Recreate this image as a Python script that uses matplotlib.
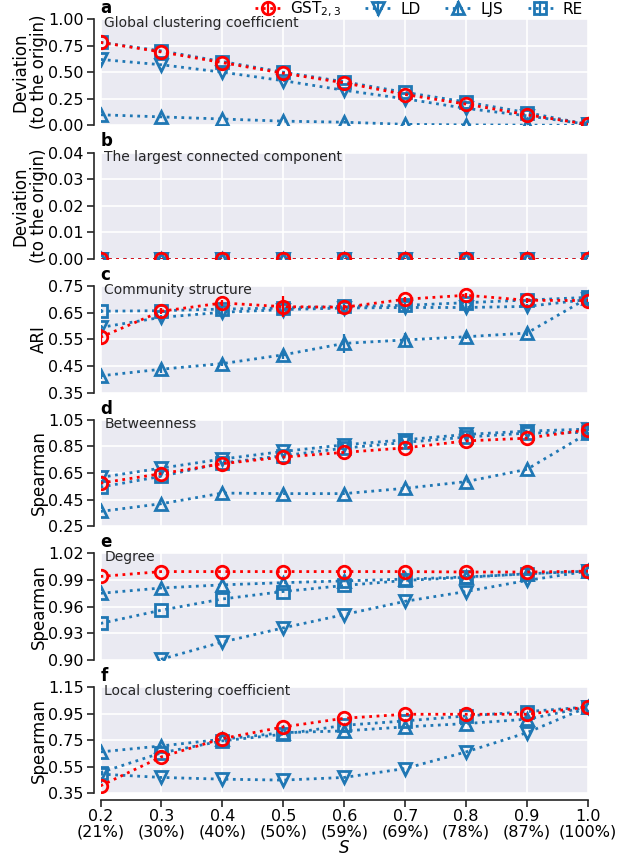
import numpy as np
import matplotlib
matplotlib.use("Agg")
import matplotlib.pyplot as plt

# ---- data -------------------------------------------------------------
s_values = [0.2, 0.3, 0.4, 0.5, 0.6, 0.7, 0.8, 0.9, 1.0]
s_percent = ["21%", "30%", "40%", "50%", "59%", "69%", "78%", "87%", "100%"]
methods = ["GST$_{2,3}$", "LD", "LJS", "RE"]

# a: global clustering coefficient (deviation to the origin)
gcc_gst = [0.78, 0.69, 0.59, 0.49, 0.40, 0.29, 0.20, 0.10, 0.01]
gcc_ld = [0.62, 0.57, 0.50, 0.42, 0.33, 0.25, 0.16, 0.09, 0.01]
gcc_ljs = [0.10, 0.08, 0.06, 0.04, 0.03, 0.01, 0.005, 0.003, 0.0]
gcc_re = [0.78, 0.70, 0.60, 0.50, 0.41, 0.31, 0.22, 0.12, 0.01]

# b: largest connected component (deviation to the origin)
lcc_gst = [0.0, 0.0, 0.0, 0.0, 0.0, 0.0, 0.0, 0.0, 0.0]
lcc_ld = [0.0, 0.0, 0.0, 0.0, 0.0, 0.0, 0.0, 0.0, 0.0]
lcc_ljs = [0.0, 0.0, 0.0, 0.0, 0.0, 0.0, 0.0, 0.0, 0.0]
lcc_re = [0.0, 0.0, 0.0, 0.0, 0.0, 0.0, 0.0, 0.0, 0.0]

# c: community structure (ARI) with standard deviations
ari_gst = [0.558, 0.656, 0.687, 0.673, 0.671, 0.701, 0.716, 0.697, 0.696]
ari_ld = [0.595, 0.633, 0.652, 0.662, 0.668, 0.670, 0.670, 0.674, 0.700]
ari_ljs = [0.413, 0.438, 0.459, 0.492, 0.535, 0.548, 0.560, 0.574, 0.706]
ari_re = [0.656, 0.658, 0.664, 0.668, 0.674, 0.678, 0.688, 0.698, 0.708]
ari_gst_err = [0.03, 0.012, 0.01, 0.04, 0.01, 0.01, 0.01, 0.01, 0.005]
ari_ld_err = [0.01, 0.01, 0.01, 0.01, 0.01, 0.01, 0.01, 0.01, 0.005]
ari_ljs_err = [0.01, 0.015, 0.01, 0.015, 0.035, 0.025, 0.01, 0.01, 0.005]
ari_re_err = [0.008, 0.01, 0.008, 0.008, 0.008, 0.008, 0.008, 0.008, 0.005]

# d: betweenness (Spearman)
btw_gst = [0.574, 0.645, 0.720, 0.770, 0.805, 0.839, 0.891, 0.912, 0.975]
btw_ld = [0.617, 0.687, 0.755, 0.812, 0.862, 0.900, 0.940, 0.965, 0.980]
btw_ljs = [0.361, 0.419, 0.499, 0.495, 0.495, 0.535, 0.585, 0.678, 0.950]
btw_re = [0.544, 0.625, 0.725, 0.780, 0.837, 0.880, 0.920, 0.950, 0.955]

# e: degree (Spearman)
deg_gst = [0.994, 0.9995, 0.9995, 0.9995, 0.9995, 0.9995, 0.999, 0.999, 1.0]
deg_ld = [0.870, 0.9007, 0.920, 0.936, 0.951, 0.966, 0.977, 0.9895, 1.0]
deg_ljs = [0.975, 0.981, 0.9845, 0.987, 0.989, 0.991, 0.9935, 0.997, 1.0]
deg_re = [0.941, 0.956, 0.9686, 0.977, 0.9838, 0.9895, 0.993, 0.997, 1.0]

# f: local clustering coefficient (Spearman)
lcc2_gst = [0.407, 0.625, 0.762, 0.850, 0.915, 0.945, 0.945, 0.945, 1.0]
lcc2_ld = [0.495, 0.470, 0.457, 0.450, 0.470, 0.537, 0.662, 0.807, 1.0]
lcc2_ljs = [0.662, 0.707, 0.757, 0.807, 0.820, 0.850, 0.875, 0.908, 1.0]
lcc2_re = [0.507, 0.655, 0.745, 0.795, 0.862, 0.895, 0.932, 0.965, 1.0]

panel_letters = ["a", "b", "c", "d", "e", "f"]
panel_titles = ["Global clustering coefficient", "The largest connected component",
                "Community structure", "Betweenness", "Degree",
                "Local clustering coefficient"]
panel_ylabels = ["Deviation\n(to the origin)", "Deviation\n(to the origin)", "ARI",
                 "Spearman", "Spearman", "Spearman"]
panel_yticks = [
    [0.00, 0.25, 0.50, 0.75, 1.00],
    [0.00, 0.01, 0.02, 0.03, 0.04],
    [0.35, 0.45, 0.55, 0.65, 0.75],
    [0.25, 0.45, 0.65, 0.85, 1.05],
    [0.90, 0.93, 0.96, 0.99, 1.02],
    [0.35, 0.55, 0.75, 0.95, 1.15],
]

panels = [
    (gcc_gst, gcc_ld, gcc_ljs, gcc_re, None),
    (lcc_gst, lcc_ld, lcc_ljs, lcc_re, None),
    (ari_gst, ari_ld, ari_ljs, ari_re, (ari_gst_err, ari_ld_err, ari_ljs_err, ari_re_err)),
    (btw_gst, btw_ld, btw_ljs, btw_re, None),
    (deg_gst, deg_ld, deg_ljs, deg_re, None),
    (lcc2_gst, lcc2_ld, lcc2_ljs, lcc2_re, None),
]

# ---- style ------------------------------------------------------------
RED = "#ff0000"
BLUE = "#1f77b4"
styles = [
    dict(color=RED, marker="o", zorder=5),
    dict(color=BLUE, marker="v", zorder=3),
    dict(color=BLUE, marker="^", zorder=3),
    dict(color=BLUE, marker="s", zorder=4),
]

plt.rcParams["font.family"] = ["DejaVu Sans"]

fig = plt.figure(figsize=(6.38, 8.58), dpi=100)
left, right = 100.5 / 638, 588 / 638
top_px, pitch_px, height_px = 19.0, 133.6, 106.4

axes = []
for i in range(6):
    y0 = 1 - (top_px + i * pitch_px + height_px) / 858
    ax = fig.add_axes([left, y0, right - left, height_px / 858])
    axes.append(ax)

for i, ax in enumerate(axes):
    ax.set_facecolor("#EAEAF2")
    gst, ld, ljs, re_, errs = panels[i]
    series = [gst, ld, ljs, re_]
    for k, (vals, st) in enumerate(zip(series, styles)):
        yerr = errs[k] if errs is not None else np.zeros(len(vals))
        ax.errorbar(s_values, vals, yerr=yerr, color=st["color"], marker=st["marker"],
                    linestyle=":", linewidth=2, markersize=9, markeredgewidth=2,
                    markerfacecolor="none", elinewidth=1.6, capsize=0,
                    zorder=st["zorder"], label=methods[k])
    ax.set_xlim(0.2, 1.0)
    yt = panel_yticks[i]
    ax.set_ylim(yt[0], yt[-1])
    ax.set_yticks(yt)
    ax.set_yticklabels([f"{v:.2f}" for v in yt])
    ax.set_xticks(s_values)
    ax.grid(True, color="white", linewidth=1.2)
    ax.set_axisbelow(True)
    for side in ["top", "right"]:
        ax.spines[side].set_visible(False)
    ax.spines["left"].set_position(("outward", 5))
    ax.spines["left"].set_color("#262626")
    ax.spines["left"].set_linewidth(1.2)
    ax.tick_params(axis="y", labelsize=11.5, length=5, width=1.2, color="#262626", pad=2)
    if i < 5:
        ax.spines["bottom"].set_visible(False)
        ax.tick_params(axis="x", length=0, labelbottom=False)
    else:
        ax.spines["bottom"].set_position(("outward", 5))
        ax.spines["bottom"].set_color("#262626")
        ax.spines["bottom"].set_linewidth(1.2)
        ax.tick_params(axis="x", labelsize=11.5, length=5, width=1.2, color="#262626", pad=1.5)
        ax.set_xticklabels([f"{s:.1f}\n({p})" for s, p in zip(s_values, s_percent)],
                           linespacing=1.05)
        ax.set_xlabel("$S$", fontsize=12, labelpad=-1)
    ax.set_ylabel(panel_ylabels[i], fontsize=12, labelpad=0, linespacing=1.05)
    ax.text(0.008, 1.028, panel_titles[i], transform=ax.transAxes, ha="left", va="top",
            fontsize=10, color="#262626")
    ax.text(0.0, 1.02, panel_letters[i], transform=ax.transAxes, ha="left", va="bottom",
            fontsize=12, fontweight="bold")

fig.align_ylabels(axes)

handles, labels = axes[0].get_legend_handles_labels()
fig.legend(handles, labels, loc="upper right", bbox_to_anchor=(right - 0.008, 1.0),
           ncol=4, frameon=False, fontsize=11, handlelength=1.7, columnspacing=1.6,
           handletextpad=0.6, borderaxespad=0.0, borderpad=0.0)

fig.savefig("out.png", dpi=100)
